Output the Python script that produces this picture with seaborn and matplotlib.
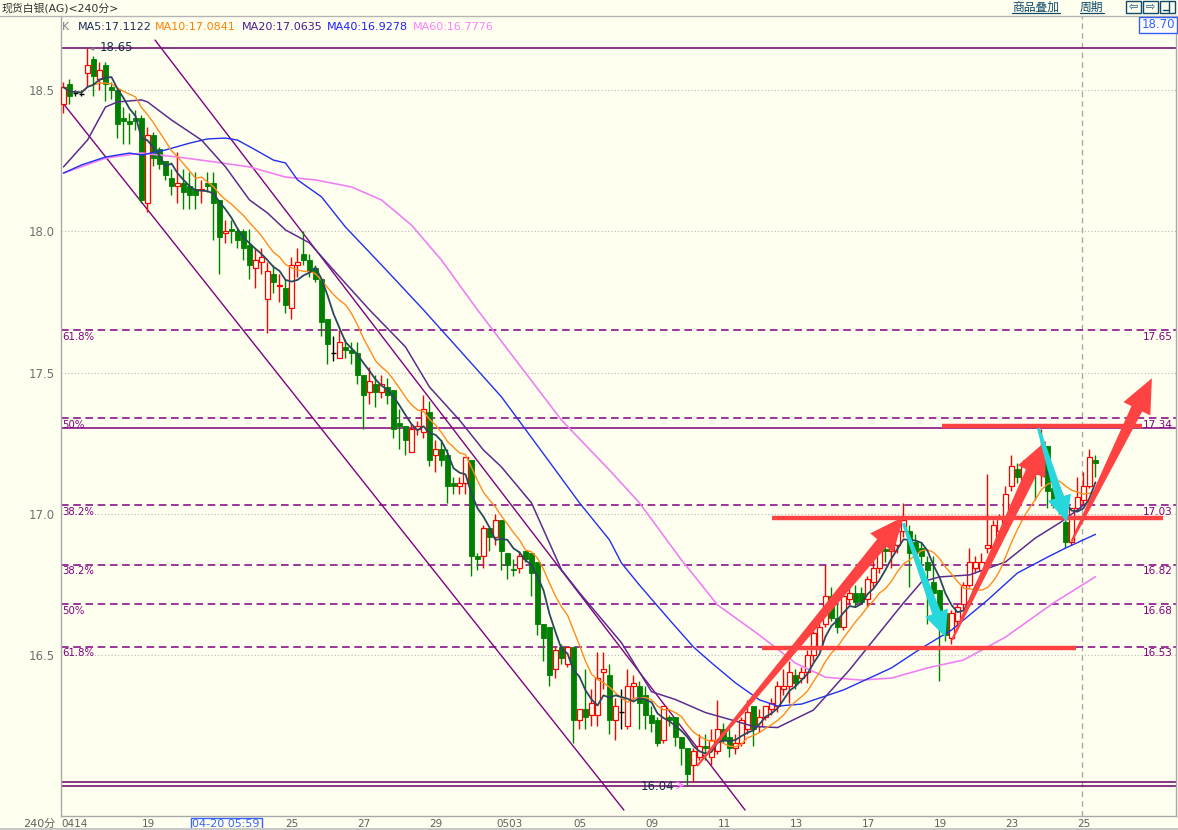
import numpy as np
import pandas as pd
import matplotlib
matplotlib.use("Agg")
import matplotlib.pyplot as plt
import seaborn as sns
from matplotlib.patches import Polygon, Rectangle
from matplotlib.lines import Line2D

# ---------------------------------------------------------------- data
opens = [18.45, 18.52, 18.49, 18.485, 18.56, 18.61, 18.54, 18.59, 18.51, 18.50,
         18.40, 18.39, 18.40, 18.40, 18.10, 18.34, 18.29, 18.25, 18.19, 18.16,
         18.17, 18.16, 18.15, 18.145, 18.17, 18.17, 18.11, 17.995, 18.01, 18.00,
         18.00, 17.95, 17.87, 17.89, 17.76, 17.85, 17.805, 17.80, 17.73, 17.88,
         17.92, 17.90, 17.87, 17.83, 17.69, 17.57, 17.55, 17.59, 17.58, 17.57,
         17.49, 17.43, 17.46, 17.43, 17.45, 17.44, 17.32, 17.31, 17.22, 17.30,
         17.29, 17.36, 17.21, 17.23, 17.21, 17.11, 17.10, 17.11, 17.19, 16.85,
         16.85, 16.95, 16.92, 16.98, 16.86, 16.805, 16.81, 16.87, 16.86, 16.83,
         16.61, 16.60, 16.45, 16.53, 16.47, 16.53, 16.27, 16.31, 16.29, 16.29,
         16.44, 16.43, 16.27, 16.30, 16.25, 16.39, 16.39, 16.36, 16.29, 16.27,
         16.20, 16.28, 16.28, 16.21, 16.17, 16.11, 16.14, 16.18, 16.14, 16.16,
         16.24, 16.21, 16.17, 16.19, 16.24, 16.32, 16.25, 16.28, 16.31, 16.32,
         16.38, 16.39, 16.43, 16.42, 16.44, 16.50, 16.53, 16.61, 16.71, 16.63,
         16.60, 16.70, 16.72, 16.72, 16.70, 16.76, 16.81, 16.875, 16.87, 16.89,
         16.94, 16.94, 16.90, 16.88, 16.83, 16.76, 16.73, 16.65, 16.56, 16.62,
         16.68, 16.75, 16.81, 16.80, 16.88, 16.88, 16.94, 16.99, 17.10, 17.16,
         17.12, 17.15, 17.18, 17.14, 17.24, 17.09, 17.04, 16.97, 16.90, 17.02,
         17.05, 17.10, 17.19]
highs = [18.53, 18.54, 18.50, 18.50, 18.65, 18.62, 18.60, 18.60, 18.53, 18.50,
         18.44, 18.42, 18.43, 18.41, 18.37, 18.35, 18.30, 18.25, 18.22, 18.28,
         18.22, 18.21, 18.21, 18.18, 18.21, 18.21, 18.11, 18.04, 18.04, 18.01,
         18.01, 18.01, 17.94, 17.94, 17.89, 17.88, 17.85, 17.83, 17.91, 17.94,
         18.00, 17.92, 17.88, 17.83, 17.69, 17.63, 17.65, 17.62, 17.61, 17.61,
         17.49, 17.52, 17.49, 17.49, 17.48, 17.44, 17.37, 17.31, 17.32, 17.33,
         17.42, 17.40, 17.26, 17.26, 17.23, 17.13, 17.13, 17.20, 17.19, 16.86,
         16.96, 16.95, 17.00, 16.98, 16.86, 16.84, 16.87, 16.87, 16.86, 16.83,
         16.61, 16.60, 16.53, 16.54, 16.53, 16.53, 16.31, 16.45, 16.38, 16.51,
         16.51, 16.47, 16.35, 16.38, 16.45, 16.43, 16.41, 16.39, 16.32, 16.28,
         16.32, 16.29, 16.28, 16.21, 16.17, 16.17, 16.22, 16.22, 16.24, 16.34,
         16.26, 16.24, 16.22, 16.28, 16.34, 16.32, 16.31, 16.32, 16.35, 16.41,
         16.45, 16.48, 16.45, 16.46, 16.52, 16.59, 16.62, 16.82, 16.74, 16.68,
         16.72, 16.75, 16.75, 16.74, 16.78, 16.85, 16.94, 16.90, 16.92, 16.95,
         17.04, 16.96, 16.93, 16.90, 16.85, 16.85, 16.73, 16.66, 16.66, 16.68,
         16.76, 16.88, 16.85, 16.86, 17.14, 16.98, 17.00, 17.10, 17.21, 17.18,
         17.19, 17.20, 17.20, 17.30, 17.24, 17.12, 17.06, 16.98, 17.02, 17.13,
         17.15, 17.23, 17.21]
lows = [18.42, 18.45, 18.48, 18.48, 18.51, 18.48, 18.50, 18.46, 18.47, 18.33,
        18.31, 18.31, 18.36, 18.10, 18.07, 18.23, 18.22, 18.18, 18.13, 18.10,
        18.08, 18.08, 18.08, 18.10, 18.14, 17.97, 17.85, 17.96, 17.96, 17.94,
        17.90, 17.83, 17.80, 17.85, 17.64, 17.78, 17.75, 17.71, 17.69, 17.84,
        17.88, 17.84, 17.82, 17.63, 17.53, 17.54, 17.55, 17.55, 17.53, 17.46,
        17.30, 17.39, 17.38, 17.41, 17.39, 17.27, 17.23, 17.21, 17.22, 17.28,
        17.27, 17.17, 17.15, 17.17, 17.04, 17.07, 17.07, 17.07, 16.78, 16.80,
        16.81, 16.87, 16.89, 16.80, 16.77, 16.78, 16.79, 16.83, 16.71, 16.57,
        16.48, 16.39, 16.42, 16.47, 16.46, 16.19, 16.24, 16.24, 16.25, 16.25,
        16.38, 16.22, 16.20, 16.24, 16.24, 16.34, 16.24, 16.24, 16.23, 16.18,
        16.19, 16.25, 16.18, 16.11, 16.04, 16.05, 16.13, 16.13, 16.11, 16.15,
        16.19, 16.14, 16.15, 16.18, 16.22, 16.18, 16.23, 16.27, 16.29, 16.30,
        16.36, 16.33, 16.38, 16.40, 16.40, 16.48, 16.52, 16.60, 16.62, 16.58,
        16.59, 16.68, 16.67, 16.68, 16.67, 16.74, 16.79, 16.83, 16.81, 16.86,
        16.92, 16.74, 16.84, 16.80, 16.61, 16.70, 16.41, 16.55, 16.54, 16.60,
        16.66, 16.74, 16.79, 16.78, 16.86, 16.86, 16.92, 16.97, 17.08, 17.11,
        17.10, 17.12, 17.05, 17.10, 17.02, 17.02, 17.00, 16.88, 16.89, 17.01,
        17.03, 17.09, 17.13]
closes = [18.51, 18.48, 18.49, 18.485, 18.59, 18.55, 18.57, 18.52, 18.50, 18.38,
          18.39, 18.38, 18.39, 18.11, 18.34, 18.26, 18.24, 18.20, 18.16, 18.17,
          18.14, 18.13, 18.13, 18.15, 18.16, 18.10, 17.98, 18.00, 18.00, 17.97,
          17.94, 17.88, 17.90, 17.91, 17.86, 17.82, 17.81, 17.74, 17.88, 17.89,
          17.90, 17.86, 17.83, 17.68, 17.60, 17.57, 17.61, 17.58, 17.57, 17.49,
          17.42, 17.47, 17.43, 17.46, 17.42, 17.30, 17.31, 17.26, 17.30, 17.31,
          17.37, 17.19, 17.23, 17.19, 17.10, 17.10, 17.11, 17.20, 16.85, 16.84,
          16.95, 16.92, 16.98, 16.87, 16.82, 16.80, 16.85, 16.84, 16.79, 16.61,
          16.56, 16.43, 16.52, 16.49, 16.53, 16.27, 16.31, 16.28, 16.33, 16.42,
          16.45, 16.27, 16.32, 16.30, 16.39, 16.40, 16.33, 16.29, 16.26, 16.19,
          16.32, 16.27, 16.21, 16.17, 16.08, 16.16, 16.18, 16.17, 16.20, 16.24,
          16.20, 16.17, 16.19, 16.27, 16.30, 16.24, 16.28, 16.32, 16.33, 16.39,
          16.39, 16.44, 16.40, 16.44, 16.50, 16.58, 16.60, 16.71, 16.63, 16.60,
          16.71, 16.72, 16.69, 16.69, 16.77, 16.81, 16.87, 16.87, 16.89, 16.94,
          16.98, 16.86, 16.86, 16.85, 16.80, 16.72, 16.65, 16.57, 16.65, 16.67,
          16.75, 16.83, 16.83, 16.83, 16.89, 16.96, 16.99, 17.07, 17.17, 17.13,
          17.17, 17.17, 17.14, 17.17, 17.08, 17.04, 17.02, 16.90, 17.02, 17.06,
          17.10, 17.20, 17.18]

# slower moving averages (they need history before 04-14)
ma20_bar = [0, 4, 7, 9, 13, 14, 18, 23, 27, 31, 34, 37, 41, 45, 51, 57, 61, 66, 70, 73,
            78, 83, 86, 93, 98, 102, 107, 111, 115, 119, 125, 131, 140, 143, 146, 151,
            157, 162, 166, 169, 172]
ma20_val = [18.228, 18.323, 18.44, 18.458, 18.465, 18.458, 18.394, 18.323, 18.228, 18.111,
            18.065, 18.005, 17.959, 17.863, 17.722, 17.591, 17.449, 17.332, 17.226, 17.166,
            17.039, 16.802, 16.721, 16.544, 16.371, 16.343, 16.297, 16.273, 16.248, 16.244,
            16.306, 16.448, 16.685, 16.759, 16.777, 16.784, 16.830, 16.915, 16.968, 17.014,
            17.0635]
ma40_bar = [0, 3, 7, 11, 13, 17, 21, 24, 27, 29, 32, 35, 37, 39, 43, 47, 53, 60, 66, 73,
            82, 86, 91, 93, 96, 101, 105, 108, 112, 116, 119, 123, 130, 138, 143, 148,
            154, 159, 164, 167, 172]
ma40_val = [18.206, 18.235, 18.263, 18.277, 18.27, 18.288, 18.312, 18.327, 18.330, 18.323,
            18.288, 18.252, 18.242, 18.182, 18.122, 18.015, 17.881, 17.722, 17.580, 17.414,
            17.155, 17.039, 16.908, 16.826, 16.748, 16.625, 16.529, 16.473, 16.402, 16.342,
            16.320, 16.327, 16.377, 16.455, 16.525, 16.589, 16.695, 16.791, 16.847, 16.879,
            16.9278]
ma60_bar = [0, 7, 13, 19, 24, 31, 37, 42, 48, 53, 58, 63, 69, 76, 83, 91, 96, 103, 109,
            116, 122, 127, 133, 138, 144, 150, 157, 165, 172]
ma60_val = [18.206, 18.259, 18.277, 18.263, 18.249, 18.228, 18.192, 18.182, 18.157, 18.111,
            18.022, 17.898, 17.722, 17.527, 17.332, 17.155, 17.039, 16.837, 16.678, 16.571,
            16.472, 16.422, 16.412, 16.419, 16.455, 16.483, 16.564, 16.685, 16.7776]

fib_levels = [17.65, 17.34, 17.03, 16.82, 16.68, 16.53]
fib_pct = ["61.8%", "50%", "38.2%", "38.2%", "50%", "61.8%"]

date_labels = ["0414", "19", "25", "27", "29", "0503", "05", "09", "11", "13", "17", "19", "23", "25"]
date_pos = [-0.3, 13, 37, 49, 61, 72.2, 85, 97, 109, 121, 133, 145, 157, 169]

# channel lines, support / resistance and arrows (bar index, price)
channel_up = ([15.25, 113.6], [18.677, 15.952])
channel_low = ([-0.25, 93.4], [18.458, 15.952])
red_levels = [(17.311, 146.4, 179.7), (16.984, 118.1, 183.2), (16.524, 116.4, 168.7)]
red_arrows = [((105.6, 16.108), (140.0, 16.99)),
              ((148.1, 16.554), (163.75, 17.258)),
              ((168.0, 16.902), (181.4, 17.48))]
cyan_arrows = [((140.0, 16.967), (147.0, 16.564)),
               ((162.5, 17.303), (167.25, 16.971))]

# ---------------------------------------------------------------- style
BG = "#fffff0"
UP = "#ff0000"
DOWN = "#008000"
PURPLE = "#800080"
ARROW_RED = "#ff4242"
ARROW_CYAN = "#26d7dc"

sns.set_theme(style="white")
plt.rcParams["font.family"] = ["DejaVu Sans", "Noto Sans CJK SC"]

W, H = 1178, 830
fig = plt.figure(figsize=(W / 100, H / 100), dpi=100, facecolor=BG)
ax = fig.add_axes([60.5 / W, 14 / H, (1176 - 60.5) / W, 800 / H], facecolor=BG)
ax.set_xlim(-0.5, 185.42)
ax.set_ylim(15.931, 18.762)


def fx(px):
    return px / W


def fy(py):
    return 1 - py / H


# grid and frame
for g in [16.5, 17.0, 17.5, 18.0, 18.5]:
    ax.axhline(g, color="#b8b8b8", lw=0.8, ls=(0, (1, 2)), zorder=1)
for side in ["left", "bottom", "right"]:
    ax.spines[side].set_color("#a8a8a8")
    ax.spines[side].set_linewidth(1)
ax.spines["top"].set_visible(False)
fig.add_artist(Line2D([0, 1], [fy(16), fy(16)], color="#b4b4b4", lw=1))
fig.add_artist(Rectangle((0, 0), 1, fy(828), color="#c8c8c8", lw=0))

ax.set_xticks([])
ax.set_yticks([16.5, 17.0, 17.5, 18.0, 18.5])
ax.set_yticklabels(["16.5", "17.0", "17.5", "18.0", "18.5"])
ax.tick_params(axis="y", length=0, pad=4, labelsize=8.5, labelcolor="#707070")

# fibonacci and level lines
for lv, pct in zip(fib_levels, fib_pct):
    ax.axhline(lv, color=PURPLE, lw=1.1, ls=(0, (5, 3)), zorder=2)
    ax.text(-0.2, lv - 0.006, pct, ha="left", va="top", fontsize=7.3, color=PURPLE, zorder=2)
    ax.text(184.9, lv - 0.006, f"{lv:.2f}", ha="right", va="top", fontsize=7.5, color=PURPLE, zorder=2)
ax.axhline(17.304, color=PURPLE, lw=1.1, zorder=2)
ax.axhline(18.65, color="#660066", lw=1.1, zorder=2)
ax.axhline(16.052, color="#660066", lw=1.1, zorder=2)
ax.axhline(16.037, color="#660066", lw=1.1, zorder=2)
ax.axvline(169.75, color="#a8a8a8", lw=1, ls=(0, (4, 3)), zorder=1)

ax.plot(*channel_up, color=PURPLE, lw=1, zorder=2)
ax.plot(*channel_low, color=PURPLE, lw=1, zorder=2)

# candles
df = pd.DataFrame({"open": opens, "high": highs, "low": lows, "close": closes})
df["bar"] = np.arange(len(df))
up = df["close"] > df["open"]
down = df["close"] < df["open"]
flat = ~(up | down)
wick_colors = np.where(up, UP, np.where(down, DOWN, "black"))
ax.vlines(df["bar"], df["low"], df["high"], colors=wick_colors, lw=1, zorder=3)
ax.bar(df["bar"][up], (df["close"] - df["open"])[up], bottom=df["open"][up], width=0.72,
       facecolor=BG, edgecolor=UP, lw=0.9, zorder=4)
ax.bar(df["bar"][down], (df["close"] - df["open"])[down], bottom=df["open"][down], width=0.72,
       facecolor=DOWN, edgecolor=DOWN, lw=0.6, zorder=4)
ax.hlines(df["open"][flat], df["bar"][flat] - 0.4, df["bar"][flat] + 0.4, colors="black", lw=1, zorder=4)

# moving averages
df["ma5"] = df["close"].rolling(5, min_periods=1).mean()
df["ma10"] = df["close"].rolling(10, min_periods=1).mean()
sns.lineplot(x=ma60_bar, y=ma60_val, ax=ax, color="#f080f0", lw=1.2, zorder=5)
sns.lineplot(x=ma40_bar, y=ma40_val, ax=ax, color="#2030f0", lw=1.0, zorder=5)
sns.lineplot(x=ma20_bar, y=ma20_val, ax=ax, color="#5b2c8f", lw=1.1, zorder=5)
sns.lineplot(data=df, x="bar", y="ma10", ax=ax, color="#ff8c1a", lw=1.0, zorder=5)
sns.lineplot(data=df, x="bar", y="ma5", ax=ax, color="#2c4660", lw=1.3, zorder=5)
ax.set_xlabel("")
ax.set_ylabel("")


def fat_arrow(tail, tip, color, w_tail, w_neck, head_w, head_len):
    t = ax.transData
    p0 = np.array(t.transform(tail))
    p1 = np.array(t.transform(tip))
    d = p1 - p0
    u = d / np.hypot(*d)
    n = np.array([-u[1], u[0]])
    neck = p1 - u * head_len
    pts = [p0 + n * w_tail / 2, neck + n * w_neck / 2, neck + n * head_w / 2, p1,
           neck - n * head_w / 2, neck - n * w_neck / 2, p0 - n * w_tail / 2]
    ax.add_patch(Polygon(t.inverted().transform(pts), closed=True, fc=color, ec="none", zorder=7))


for lv, x0, x1 in red_levels:
    ax.plot([x0, x1], [lv, lv], color=ARROW_RED, lw=3.2, solid_capstyle="butt", zorder=6)
for tail, tip in red_arrows:
    fat_arrow(tail, tip, ARROW_RED, 2, 12, 30, 34)
for tail, tip in cyan_arrows:
    fat_arrow(tail, tip, ARROW_CYAN, 3, 9, 24, 26)

# price marks
ax.text(6.1, 18.65, "18.65", ha="left", va="center", fontsize=8.5, color="#1a2a4a", zorder=6)
ax.text(4.4, 18.65, "◂", ha="left", va="center", fontsize=6, color="#808080", zorder=6)
ax.text(101.8, 16.037, "16.04", ha="right", va="center", fontsize=8.5, color="#1a2a4a", zorder=6)
ax.annotate("", xy=(104.0, 16.04), xytext=(101.9, 16.04),
            arrowprops=dict(arrowstyle="->", color="#ff80ff", lw=0.8), zorder=6)

# date axis
xt = ax.get_xaxis_transform()
for pos, lab in zip(date_pos, date_labels):
    ax.text(pos, -0.0105, lab, transform=xt, ha="left", va="center", fontsize=7.5,
            color="#606060", clip_on=False)
ax.text(27.1, -0.0105, "04-20 05:59", transform=xt, ha="center", va="center", fontsize=8,
        color="#3a66ff", clip_on=False,
        bbox=dict(boxstyle="square,pad=0.15", fc=BG, ec="#3a66ff", lw=1))
fig.text(fx(56), fy(824), "240分", ha="right", va="center", fontsize=8, color="#606060")

# header
fig.text(fx(1), fy(8), "现货白银(AG)<240分>", ha="left", va="center", fontsize=7.8, color="#303030")
header = [(62, "K", "#808080"), (78, "MA5:17.1122", "#1c2c5c"), (155, "MA10:17.0841", "#ff8000"),
          (242, "MA20:17.0635", "#4b1a8c"), (327, "MA40:16.9278", "#1e1eff"),
          (413, "MA60:16.7776", "#ff80ff")]
for px, txt, col in header:
    fig.text(fx(px), fy(27), txt, ha="left", va="center", fontsize=8, color=col)

link = "#0f4a6a"
fig.text(fx(1012), fy(7), "商品叠加", ha="left", va="center", fontsize=8.5, color=link)
fig.add_artist(Line2D([fx(1012), fx(1060)], [fy(13.5), fy(13.5)], color=link, lw=0.9))
fig.text(fx(1080), fy(7), "周期", ha="left", va="center", fontsize=8.5, color=link)
fig.add_artist(Line2D([fx(1080), fx(1104)], [fy(13.5), fy(13.5)], color=link, lw=0.9))
for bx, sym in [(1126, "⇦"), (1143, "⇨"), (1160, "")]:
    fig.add_artist(Rectangle((fx(bx), fy(13)), 15 / W, 12 / H, fill=False, ec=link, lw=1))
    if sym:
        fig.text(fx(bx + 7.5), fy(7), sym, ha="center", va="center", fontsize=8, color=link)
fig.add_artist(Line2D([fx(1169), fx(1169)], [fy(2), fy(12)], color=link, lw=1))
fig.add_artist(Line2D([fx(1163), fx(1169)], [fy(10), fy(10)], color=link, lw=1))

fig.text(fx(1158), fy(25), "18.70", ha="center", va="center", fontsize=8.5, color="#3060ff",
         bbox=dict(boxstyle="square,pad=0.15", fc="white", ec="#3060ff", lw=1))

fig.savefig("out.png", dpi=100, facecolor=BG)
